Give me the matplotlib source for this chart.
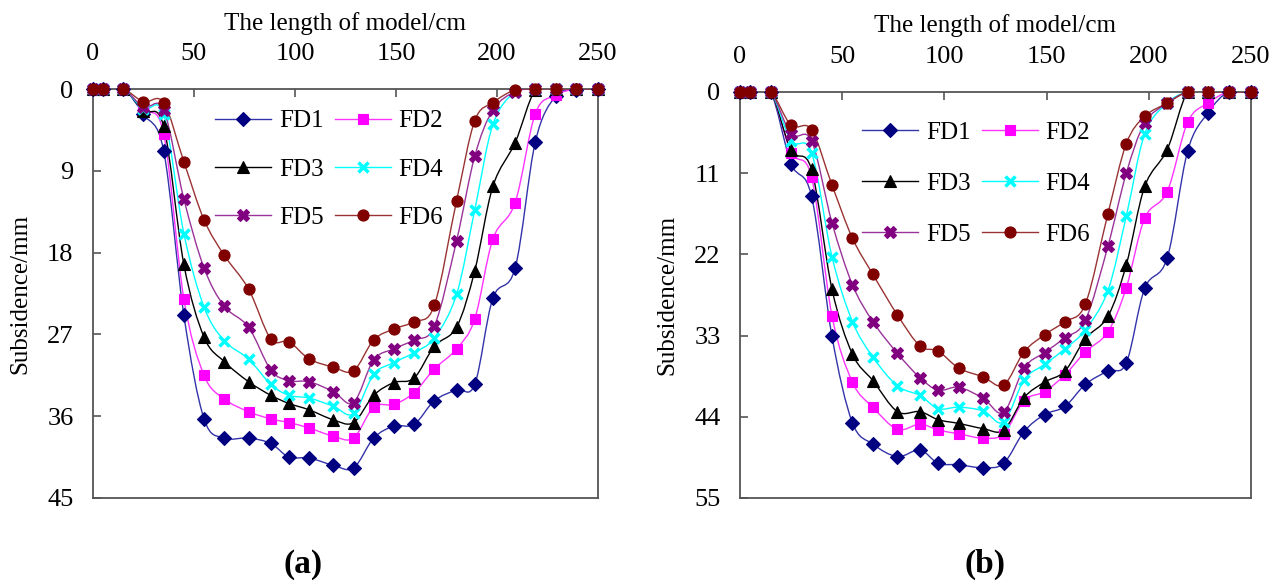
import matplotlib
matplotlib.use('Agg')
import matplotlib.pyplot as plt
from matplotlib.path import Path
from matplotlib.patches import PathPatch
from matplotlib.lines import Line2D

plt.rcParams['font.family'] = ['Liberation Serif', 'DejaVu Serif']

# positions along the model (cm)
x_pos = [0, 5, 15, 25, 35, 45, 55, 65, 77, 88, 97, 107, 119, 129,
         139, 149, 159, 169, 180, 189, 198, 209, 219, 229, 239, 250]

# panel (a) subsidence (mm)
a_fd1 = [0, 0, 0, 2.8, 6.8, 24.9, 36.3, 38.4, 38.4, 39.0, 40.5, 40.6, 41.4, 41.7,
         38.4, 37.1, 36.9, 34.3, 33.1, 32.5, 23.0, 19.7, 5.8, 0.8, 0.1, 0]
a_fd2 = [0, 0, 0, 2.3, 4.9, 23.1, 31.5, 34.1, 35.5, 36.3, 36.7, 37.3, 38.2, 38.4,
         35.0, 34.7, 33.4, 30.8, 28.6, 25.3, 16.5, 12.5, 2.7, 0.7, 0, 0]
a_fd3 = [0, 0, 0, 2.4, 4.1, 19.3, 27.3, 30.0, 32.2, 33.7, 34.6, 35.3, 36.4, 36.7,
         33.7, 32.3, 31.8, 28.3, 26.2, 20.0, 10.7, 5.9, 0.1, 0, 0, 0]
a_fd4 = [0, 0, 0, 2.2, 2.8, 15.9, 24.0, 27.7, 29.7, 32.5, 33.7, 34.0, 34.9, 35.7,
         31.4, 30.1, 29.0, 27.4, 22.6, 13.3, 3.9, 0.3, 0, 0, 0, 0]
a_fd5 = [0, 0, 0, 2.0, 2.3, 12.1, 19.7, 23.9, 26.2, 30.9, 32.1, 32.2, 33.3, 34.5,
         29.8, 28.6, 27.6, 26.1, 16.7, 7.4, 2.3, 0.3, 0, 0, 0, 0]
a_fd6 = [0, 0, 0, 1.4, 1.5, 8.0, 14.4, 18.3, 22.0, 27.5, 27.8, 29.7, 30.6, 31.0,
         27.6, 26.4, 25.6, 23.8, 12.3, 3.5, 1.5, 0.1, 0, 0, 0, 0]

# panel (b) subsidence (mm)
b_fd1 = [0, 0, 0, 9.7, 14.1, 33.1, 44.8, 47.7, 49.4, 48.5, 50.3, 50.5, 50.9, 50.3,
         46.0, 43.7, 42.6, 39.6, 37.8, 36.7, 26.6, 22.5, 8.0, 2.8, 0, 0]
b_fd2 = [0, 0, 0, 8.2, 11.5, 30.3, 39.3, 42.7, 45.7, 45.0, 45.8, 46.3, 46.9, 46.3,
         41.8, 40.6, 38.3, 35.2, 32.5, 26.5, 17.1, 13.5, 4.1, 1.5, 0, 0]
b_fd3 = [0, 0, 0, 7.9, 10.5, 26.7, 35.5, 39.1, 43.3, 43.3, 44.4, 44.9, 45.6, 45.8,
         41.4, 39.3, 37.8, 33.4, 30.4, 23.4, 12.8, 7.8, 0, 0, 0, 0]
b_fd4 = [0, 0, 0, 6.6, 8.2, 22.3, 31.1, 35.9, 39.8, 41.1, 42.9, 42.7, 43.2, 44.7,
         39.0, 36.9, 34.8, 32.2, 26.9, 16.8, 5.7, 1.5, 0, 0, 0, 0]
b_fd5 = [0, 0, 0, 5.7, 6.6, 17.7, 26.1, 31.1, 35.4, 38.7, 40.4, 40.0, 41.5, 43.4,
         37.4, 35.3, 33.3, 30.9, 20.9, 11.0, 4.2, 1.5, 0, 0, 0, 0]
b_fd6 = [0, 0, 0, 4.5, 5.1, 12.6, 19.8, 24.7, 30.2, 34.4, 35.1, 37.4, 38.6, 39.7,
         35.2, 32.9, 31.1, 28.7, 16.5, 7.0, 3.3, 1.5, 0, 0, 0, 0]

labels = ['FD1', 'FD2', 'FD3', 'FD4', 'FD5', 'FD6']
colors = ['#000080', '#ff00ff', '#000000', '#00ffff', '#800080', '#800000']
line_colors = ['#3333aa', '#ff33ff', '#000000', '#00ffff', '#993399', '#993333']
markers = ['D', 's', '^', 'x', 'X', 'o']
msizes = [7, 7.5, 8.5, 7.5, 8, 8]


def smooth_path(xs, ys):
    # Excel-style smoothed line: Catmull-Rom converted to cubic Bezier
    verts = [(xs[0], ys[0])]
    codes = [Path.MOVETO]
    n = len(xs)
    for i in range(n - 1):
        x0, y0 = (xs[i - 1], ys[i - 1]) if i > 0 else (xs[i], ys[i])
        x1, y1 = xs[i], ys[i]
        x2, y2 = xs[i + 1], ys[i + 1]
        x3, y3 = (xs[i + 2], ys[i + 2]) if i + 2 < n else (x2, y2)
        c1 = (x1 + (x2 - x0) / 6, y1 + (y2 - y0) / 6)
        c2 = (x2 - (x3 - x1) / 6, y2 - (y3 - y1) / 6)
        verts += [c1, c2, (x2, y2)]
        codes += [Path.CURVE4] * 3
    return Path(verts, codes)


def draw_panel(ax, series, ymax, ystep, leg_anchor, leg_spacing):
    handles = []
    for i, ys in enumerate(series):
        ax.add_patch(PathPatch(smooth_path(x_pos, ys), fill=False,
                               edgecolor=line_colors[i], lw=1.0, zorder=2 + i))
        mew = 2.5 if markers[i] == 'x' else 0.8
        ax.plot(x_pos, ys, ls='none', marker=markers[i], ms=msizes[i],
                color=colors[i], mec=colors[i], mew=mew, zorder=10 + i,
                clip_on=False)
        handles.append(Line2D([], [], color=line_colors[i], lw=1.0,
                              marker=markers[i], ms=msizes[i],
                              mfc=colors[i], mec=colors[i], mew=mew))
    ax.set_xlim(0, 250)
    ax.set_ylim(ymax, 0)
    ax.set_xticks(range(0, 251, 50))
    ax.set_yticks(range(0, ymax + 1, ystep))
    ax.xaxis.tick_top()
    ax.xaxis.set_label_position('top')
    ax.tick_params(axis='both', direction='in', length=6, width=1.2,
                   colors='#555555', labelcolor='black', labelsize=19)
    ax.tick_params(axis='x', pad=17)
    ax.tick_params(axis='y', pad=14)
    for sp in ax.spines.values():
        sp.set_color('#555555')
        sp.set_linewidth(1.3)
    ax.set_xlabel('The length of model/cm', fontsize=18, labelpad=10)
    ax.set_ylabel('Subsidence/mm', fontsize=18, labelpad=11)
    # row-wise legend order: FD1 FD2 / FD3 FD4 / FD5 FD6
    order = [0, 2, 4, 1, 3, 5]
    ax.legend([handles[k] for k in order], [labels[k] for k in order],
              ncol=2, loc='upper left',
              bbox_to_anchor=leg_anchor, frameon=False, fontsize=18,
              handlelength=2.25, handletextpad=0.3, columnspacing=0.45,
              labelspacing=leg_spacing, borderpad=0, borderaxespad=0,
              numpoints=1)


fig = plt.figure(figsize=(12.84, 5.81), dpi=100)
ax_a = fig.add_axes([0.0724, 0.1429, 0.3933, 0.7039])
ax_b = fig.add_axes([0.5763, 0.1429, 0.3980, 0.6988])

draw_panel(ax_a, [a_fd1, a_fd2, a_fd3, a_fd4, a_fd5, a_fd6], 45, 9,
           (0.242, 0.949), 1.03)
draw_panel(ax_b, [b_fd1, b_fd2, b_fd3, b_fd4, b_fd5, b_fd6], 55, 11,
           (0.239, 0.928), 1.15)

fig.text(303 / 1284, 1 - 564 / 581, '(a)', ha='center', va='center',
         fontsize=24, fontweight='bold')
fig.text(985 / 1284, 1 - 564 / 581, '(b)', ha='center', va='center',
         fontsize=24, fontweight='bold')

fig.savefig('out.png', dpi=100)
